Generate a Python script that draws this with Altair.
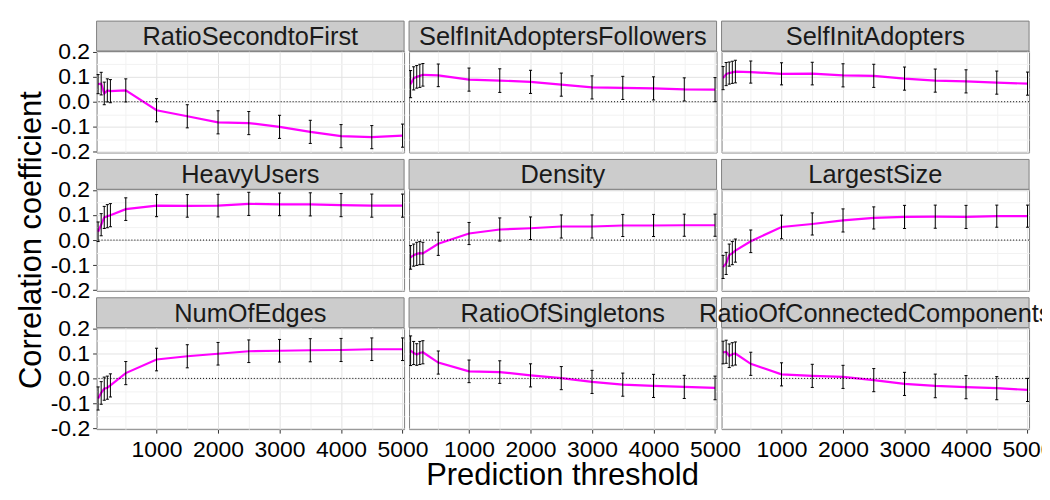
import altair as alt
import pandas as pd

panels = ["RatioSecondtoFirst", "SelfInitAdoptersFollowers", "SelfInitAdopters",
          "HeavyUsers", "Density", "LargestSize",
          "NumOfEdges", "RatioOfSingletons", "RatioOfConnectedComponents"]
thresholds = [50, 100, 150, 200, 250, 500, 1000, 1500, 2000, 2500, 3000, 3500, 4000, 4500, 5000]

ratio_second_to_first = [0.070, 0.072, 0.033, 0.045, 0.042, 0.045, -0.034, -0.058, -0.082, -0.085, -0.100, -0.120, -0.137, -0.141, -0.135]
self_init_adopters_followers = [0.070, 0.093, 0.099, 0.103, 0.107, 0.105, 0.088, 0.084, 0.079, 0.068, 0.057, 0.055, 0.053, 0.049, 0.048]
self_init_adopters = [0.094, 0.110, 0.114, 0.117, 0.120, 0.118, 0.111, 0.112, 0.105, 0.103, 0.092, 0.084, 0.081, 0.076, 0.072]
heavy_users = [0.033, 0.061, 0.090, 0.095, 0.099, 0.123, 0.137, 0.136, 0.137, 0.144, 0.142, 0.142, 0.139, 0.137, 0.137]
density = [-0.069, -0.060, -0.055, -0.052, -0.053, -0.015, 0.026, 0.042, 0.047, 0.054, 0.054, 0.058, 0.058, 0.059, 0.059]
largest_size = [-0.107, -0.093, -0.060, -0.052, -0.042, -0.005, 0.052, 0.064, 0.078, 0.088, 0.092, 0.093, 0.092, 0.095, 0.095]
num_of_edges = [-0.080, -0.058, -0.041, -0.037, -0.028, 0.021, 0.075, 0.088, 0.098, 0.108, 0.110, 0.112, 0.113, 0.116, 0.116]
ratio_of_singletons = [0.110, 0.101, 0.095, 0.101, 0.104, 0.063, 0.028, 0.025, 0.012, 0.001, -0.014, -0.025, -0.030, -0.034, -0.038]
ratio_of_connected_components = [0.103, 0.106, 0.090, 0.096, 0.099, 0.058, 0.016, 0.010, 0.006, -0.007, -0.022, -0.030, -0.035, -0.039, -0.046]

err_ratio_second_to_first = [0.038, 0.045, 0.045, 0.046, 0.046, 0.046, 0.046, 0.046, 0.046, 0.046, 0.046, 0.046, 0.046, 0.046, 0.046]
err_self_init_adopters_followers = [0.054, 0.046, 0.045, 0.046, 0.045, 0.045, 0.046, 0.047, 0.046, 0.046, 0.046, 0.046, 0.046, 0.046, 0.048]
err_self_init_adopters = [0.046, 0.046, 0.044, 0.044, 0.045, 0.044, 0.044, 0.045, 0.046, 0.046, 0.046, 0.046, 0.046, 0.046, 0.046]
err_heavy_users = [0.039, 0.044, 0.044, 0.046, 0.046, 0.045, 0.044, 0.045, 0.045, 0.046, 0.045, 0.046, 0.046, 0.046, 0.046]
err_density = [0.047, 0.044, 0.046, 0.046, 0.044, 0.046, 0.044, 0.046, 0.045, 0.046, 0.046, 0.044, 0.044, 0.044, 0.044]
err_largest_size = [0.046, 0.044, 0.044, 0.046, 0.046, 0.045, 0.047, 0.044, 0.046, 0.044, 0.046, 0.046, 0.046, 0.044, 0.044]
err_num_of_edges = [0.046, 0.045, 0.046, 0.046, 0.046, 0.046, 0.045, 0.046, 0.045, 0.045, 0.045, 0.046, 0.046, 0.045, 0.045]
err_ratio_of_singletons = [0.059, 0.046, 0.043, 0.046, 0.046, 0.046, 0.045, 0.045, 0.046, 0.046, 0.046, 0.046, 0.046, 0.046, 0.047]
err_ratio_of_connected_components = [0.045, 0.046, 0.047, 0.046, 0.046, 0.046, 0.046, 0.046, 0.046, 0.046, 0.046, 0.047, 0.046, 0.046, 0.046]

x_tick_values = [500, 1000, 1500, 2000, 2500, 3000, 3500, 4000, 4500, 5000]
y_tick_values = [-0.2, -0.15, -0.1, -0.05, 0.0, 0.05, 0.1, 0.15, 0.2]

means = [ratio_second_to_first, self_init_adopters_followers, self_init_adopters,
         heavy_users, density, largest_size,
         num_of_edges, ratio_of_singletons, ratio_of_connected_components]
errs = [err_ratio_second_to_first, err_self_init_adopters_followers, err_self_init_adopters,
        err_heavy_users, err_density, err_largest_size,
        err_num_of_edges, err_ratio_of_singletons, err_ratio_of_connected_components]

rows = []
for p, m, e in zip(panels, means, errs):
    for x, v, d in zip(thresholds, m, e):
        rows.append({"panel": p, "x": x, "mean": v, "lo": v - d, "hi": v + d})
df = pd.DataFrame(rows)

W, H = 309, 102
STRIP = 30
FONT = "Liberation Sans"
CAP = 25  # half width of error bar caps in data units

major_x = "datum.value % 1000 === 0"
major_y = "abs(round(datum.value * 20)) % 2 === 0"

x_axis = alt.Axis(
    values=x_tick_values, title=None, format="d", labelPadding=5,
    labelExpr=f"{major_x} ? datum.label : ''",
    gridColor={"condition": {"test": major_x, "value": "#E2E2E2"}, "value": "#F2F2F2"},
    tickOpacity={"condition": {"test": major_x, "value": 1}, "value": 0},
)
y_axis = alt.Axis(
    values=y_tick_values, title=None, format=".1f", labelPadding=3,
    labelExpr=f"{major_y} ? replace(datum.label, '\u2212', '-') : ''",
    gridColor={"condition": {"test": major_y, "value": "#E2E2E2"}, "value": "#F2F2F2"},
    tickOpacity={"condition": {"test": major_y, "value": 1}, "value": 0},
)

x_scale = alt.Scale(domain=[25, 5025], nice=False, zero=False)
y_scale = alt.Scale(domain=[-0.202, 0.202], nice=False, zero=False)


def X(field):
    return alt.X(field, scale=x_scale, axis=x_axis)


def Y(field):
    return alt.Y(field, scale=y_scale, axis=y_axis)


line = alt.Chart().mark_line(color="#FF00FF", strokeWidth=2.2).encode(
    x=X("x:Q"), y=Y("mean:Q")
)

zero = alt.Chart().transform_filter("datum.x === 5000").mark_rule(
    color="black", strokeDash=[1, 2], strokeWidth=1
).encode(y=alt.datum(0, scale=y_scale, axis=y_axis))

bars = alt.Chart().mark_rule(color="black", strokeWidth=1).encode(
    x=X("x:Q"), y=Y("lo:Q"), y2="hi:Q"
)

caps_lo = alt.Chart().transform_calculate(
    xl=f"datum.x - {CAP}", xr=f"datum.x + {CAP}"
).mark_rule(color="black", strokeWidth=1).encode(x=X("xl:Q"), x2="xr:Q", y=Y("lo:Q"))

caps_hi = alt.Chart().transform_calculate(
    xl=f"datum.x - {CAP}", xr=f"datum.x + {CAP}"
).mark_rule(color="black", strokeWidth=1).encode(x=X("xl:Q"), x2="xr:Q", y=Y("hi:Q"))

strip = alt.Chart().transform_filter("datum.x === 5000").mark_rect(
    fill="#CCCCCC", stroke="#808080", strokeWidth=1
).encode(x=alt.value(0), x2=alt.value(W), y=alt.value(-STRIP), y2=alt.value(0))

strip_text = alt.Chart().transform_filter("datum.x === 5000").mark_text(
    font=FONT, fontSize=25.5, color="#1A1A1A", align="center", baseline="middle"
).encode(x=alt.value(W / 2), y=alt.value(-STRIP / 2 + 1), text="panel:N")

layered = alt.layer(line, zero, bars, caps_lo, caps_hi, strip, strip_text, data=df).properties(
    width=W, height=H
)

facet = layered.facet(
    facet=alt.Facet("panel:N", sort=panels,
                    header=alt.Header(labelExpr="''", labelFontSize=1, labelPadding=0, title=None)),
    columns=3,
    spacing={"row": 37, "column": 5},
    bounds="flush",
    title=alt.TitleParams("Correlation coefficient", orient="left", anchor="middle",
                          fontSize=31, font=FONT, fontWeight="normal", color="black", offset=2),
)

chart = alt.vconcat(facet).properties(
    title=alt.TitleParams("Prediction threshold", orient="bottom", anchor="middle",
                          fontSize=31, font=FONT, fontWeight="normal", color="black",
                          offset=0, dx=28),
    padding={"left": 8, "top": 10, "right": -12, "bottom": 0},
).configure_view(
    stroke="#808080", strokeWidth=1
).configure_axis(
    domain=False, labelFont=FONT, labelFontSize=23, labelColor="black",
    tickColor="#333333", tickSize=4, tickWidth=1,
    labelFlush=False, labelOverlap=False, gridWidth=1,
).configure_concat(spacing=0)

chart.save("out.html", embed_options={"renderer": "svg", "actions": False})
